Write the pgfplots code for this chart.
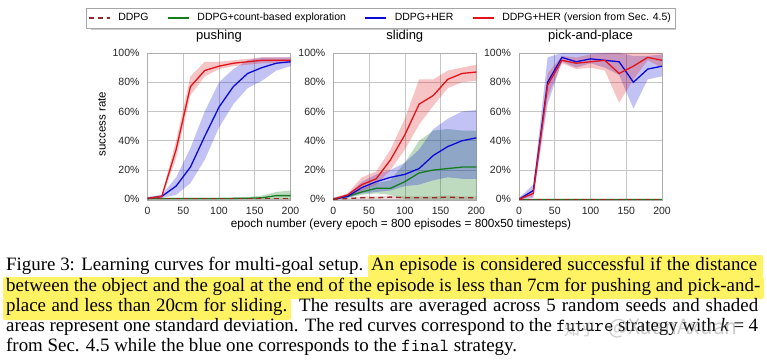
\documentclass[border=0pt]{standalone}
\usepackage{pgfplots}
\pgfplotsset{compat=1.18}
\usepackage{pgfplotstable}
\usepgfplotslibrary{fillbetween}
\usepackage{fontspec}
\setmainfont{Liberation Serif}
\setsansfont{Liberation Sans}
\newfontfamily\cjk{Noto Sans CJK SC}

\definecolor{cred}{RGB}{225,20,25}
\definecolor{cblue}{RGB}{10,10,215}
\definecolor{cgreen}{RGB}{20,125,30}
\definecolor{cddpg}{RGB}{150,40,40}
\definecolor{hl}{RGB}{255,243,100}

\pgfplotstableread{
x   rm  rl  ru   bm  bl  bu   gm  gl  gu   dm  dl  du
0   0.5 0   1.5  0.5 0   1.5  0.5 0   1    0.3 0   0.6
20  2   1   3    2   1   3    0.5 0   1    0.3 0   0.6
40  34  28  40   9   3   15   0.5 0   1    0.3 0   0.6
60  77  71  84   22  11  35   0.5 0   1    0.3 0   0.6
80  88  84  94   43  27  60   0.5 0   1    0.3 0   0.6
100 91  89  94   63  49  80   0.5 0   1    0.3 0   0.6
120 93  91  95   77  65  89   0.6 0   1.2  0.3 0   0.6
140 94  92  96   86  76  95   0.7 0   1.5  0.3 0   0.6
160 95  93  97   90  81  97   1   0   2.5  0.3 0   0.6
180 95  93  97   93  88  97   2.5 0   5    0.3 0   0.6
200 95  93  97   94  91  97   2.5 0   6    0.3 0   0.6
}\pushing

\pgfplotstableread{
x   rm  rl  ru   bm  bl  bu   gm  gl  gu   dm  dl  du
0   0   0   1    0   0   1    0   0   1    0   0   0.5
20  3   2   4    2   1   3    2   1   3    0.5 0   1
40  10  6   15   8   4   12   5   3   7    1   0   2
60  14  10  19   12  5   17   7.5 4   11   1   0   2
80  27  20  34   15  6   20   7.5 3   13   1.5 0   2.5
100 44  34  55   17  9   25   12  0   25   1   0   2
120 65  51  82   21  10  34   18  0   40   1   0   2
140 71  64  82   30  13  48   20  0   47   1   0   2
160 82  76  88   36  15  55   21  0   48   1.5 0   2.5
180 86  80  90   40  14  60   22  0   47   1   0   2
200 87  81  92   42  14  61   22  0   47   1   0   2
}\sliding

\pgfplotstableread{
x   rm  rl  ru   bm  bl  bu   gm  gl  gu   dm  dl  du
0   0   0   1    0   0   1    0   0   0.5  0   0   0.5
20  4   2   6    6   1   10   0   0   0.5  0   0   0.5
40  78  70  86   80  65  97   0   0   0.5  0   0   0.5
60  95  93  98   97  94  100  0   0   0.5  0   0   0.5
80  93  89  97   94  90  100  0   0   0.5  0   0   0.5
100 94  90  99   96  93  100  0   0   0.5  0   0   0.5
120 95  88  100  95  90  100  0   0   0.5  0   0   0.5
140 86  66  100  94  85  100  0   0   0.5  0   0   0.5
160 91  82  100  80  62  98   0   0   0.5  0   0   0.5
180 97  95  100  89  82  98   0   0   0.5  0   0   0.5
200 95  90  100  91  84  99   0   0   0.5  0   0   0.5
}\pickplace

\newcommand{\band}[6]{% table, upper, lower, color, opacity, prefix
  \addplot[name path=#6U#2, draw=none, forget plot] table[x=x,y=#2]{#1};
  \addplot[name path=#6L#3, draw=none, forget plot] table[x=x,y=#3]{#1};
  \addplot[fill=#4, fill opacity=#5, draw=none, forget plot] fill between[of=#6U#2 and #6L#3];
}
\newcommand{\allcurves}[2]{%
  \band{#1}{du}{dl}{cddpg}{0.2}{#2}
  \band{#1}{gu}{gl}{cgreen}{0.28}{#2}
  \band{#1}{bu}{bl}{cblue}{0.25}{#2}
  \band{#1}{ru}{rl}{cred}{0.25}{#2}
  \addplot[cgreen, line width=1.3pt, forget plot] table[x=x,y=gm]{#1};
  \addplot[cblue, line width=1.3pt, forget plot] table[x=x,y=bm]{#1};
  \addplot[cred, line width=1.3pt, forget plot] table[x=x,y=rm]{#1};
  \addplot[cddpg, line width=1.3pt, dash pattern=on 5pt off 4pt, forget plot] table[x=x,y=dm]{#1};
}

\pgfplotsset{
  task/.style={
    scale only axis, width=143pt, height=147pt, anchor=south west,
    xmin=0, xmax=200, ymin=-0.5, ymax=100,
    xtick={0,50,100,150,200}, ytick={0,20,40,60,80,100},
    yticklabels={0\%,20\%,40\%,60\%,80\%,100\%},
    grid=major, major grid style={draw=gray!45, line width=0.6pt},
    axis line style={draw=gray!65, line width=0.6pt},
    major tick length=0pt,
    /pgf/number format/assume math mode=true,
    tick label style={font=\sffamily\fontsize{10.5}{12}\selectfont, text=black!85},
    xticklabel style={yshift=-4pt},
    yticklabel style={xshift=-4.5pt},
    title style={font=\sffamily\fontsize{13}{15}\selectfont, yshift=1pt},
  }
}

\begin{document}
\begin{tikzpicture}[x=1pt,y=1pt]
\path (0,0) rectangle (767,362);
% highlights
\fill[hl, rounded corners=2pt] (368,362-278) rectangle (763,362-255);
\fill[hl, rounded corners=2pt] (3,362-299) rectangle (764,362-277);
\fill[hl, rounded corners=2pt] (3,362-320) rectangle (291,362-298);
% legend shadow
\fill[gray!40] (91,362-30) rectangle (676,362-11);

\begin{axis}[task, at={(147.5pt,162pt)}, title={pushing},
  legend columns=4,
  legend style={at={(1.6294,1.3061)}, anchor=north, draw=gray!70, fill=white,
    font=\sffamily\fontsize{10.5}{12}\selectfont, inner xsep=2pt, inner ysep=1pt,
    nodes={text height=8pt, text depth=2.5pt, inner ysep=3.5pt},
    /tikz/every even column/.append style={column sep=16.5pt}},
  legend image code/.code={\draw[#1] (0pt,0pt) -- (21pt,0pt); \path (27pt,0pt);},
  ]
\addlegendimage{cddpg, line width=1.3pt, dash pattern=on 5pt off 4pt}
\addlegendimage{cgreen, line width=1.3pt}
\addlegendimage{cblue, line width=1.3pt}
\addlegendimage{cred, line width=1.3pt}
\allcurves{\pushing}{A}
\legend{DDPG, DDPG+count-based exploration, DDPG+HER, DDPG+HER (version from Sec. 4.5)}
\end{axis}

\begin{axis}[task, at={(333.3pt,162pt)}, title={sliding}]
\allcurves{\sliding}{B}
\end{axis}

\begin{axis}[task, at={(519pt,162pt)}, title={pick-and-place}]
\allcurves{\pickplace}{C}
\end{axis}

\node[font=\sffamily\fontsize{11.8}{13}\selectfont, anchor=base, inner ysep=1pt] at (401,134.5)
  {epoch number (every epoch = 800 episodes = 800x50 timesteps)};
\node[font=\sffamily\fontsize{11.5}{13}\selectfont, rotate=90] at (102,238) {success rate};

% caption
\begin{scope}[every node/.style={anchor=base west, inner sep=0pt, font=\fontsize{18.9}{20}\selectfont}]
\node at (6,91.3) {\makebox[357pt][s]{Figure 3: Learning curves for multi-goal setup.}};
\node at (371,91.3) {\makebox[386pt][s]{An episode is considered successful if the distance}};
\node at (6,70.7) {\makebox[754pt][s]{between the object and the goal at the end of the episode is less than 7cm for pushing and pick-and-}};
\node at (6,50.7) {\makebox[281pt][s]{place and less than 20cm for sliding.}};
\node at (299,50.7) {\makebox[459pt][s]{The results are averaged across 5 random seeds and shaded}};
\node at (6,30.7) {\makebox[752pt][s]{areas represent one standard deviation. The red curves correspond to the {\fontsize{18.5}{20}\ttfamily future} strategy with \textit{k} = 4}};
\node at (6,10.7) {from Sec. 4.5 while the blue one corresponds to the {\fontsize{18.5}{20}\ttfamily final} strategy.};
\end{scope}

% watermark
\node[anchor=west, inner sep=0pt, text=gray, opacity=0.4, font=\cjk\fontsize{16}{18}\selectfont] at (564,33) {知乎};
\node[anchor=west, inner sep=0pt, text=gray, opacity=0.4, font=\cjk\fontsize{21}{24}\selectfont] at (608,33) {@XuanAxuan};
\end{tikzpicture}
\end{document}
